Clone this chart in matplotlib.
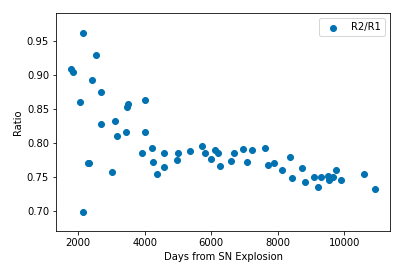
import numpy as np
import matplotlib
matplotlib.use("Agg")
import matplotlib.pyplot as plt

# days since explosion and R2/R1 ratio
days = [2150, 2541, 1780, 1850, 2422, 2692, 2061, 3504, 3474, 4016,
        3114, 2692, 3174, 3444, 4016, 4226, 3925, 4587, 5008, 5368,
        5729, 5820, 6120, 6192, 6000, 6271, 6602, 2301, 2331, 4256,
        4587, 4978, 4376, 3023, 2150,
        6692, 6962, 7233, 7083, 7624, 7714, 7895, 8135, 8376, 8436,
        8737, 8827, 9098, 9218, 9308, 9519, 9549, 9579, 9669, 9759,
        9910, 10602, 10932]
ratio = [0.961, 0.930, 0.909, 0.905, 0.892, 0.875, 0.860, 0.858, 0.853, 0.863,
         0.833, 0.828, 0.810, 0.816, 0.816, 0.792, 0.786, 0.786, 0.785, 0.788,
         0.795, 0.786, 0.789, 0.786, 0.776, 0.766, 0.773, 0.771, 0.770, 0.772,
         0.764, 0.775, 0.754, 0.758, 0.698,
         0.785, 0.791, 0.789, 0.772, 0.792, 0.767, 0.770, 0.760, 0.780, 0.748,
         0.763, 0.742, 0.750, 0.736, 0.750, 0.752, 0.745, 0.748, 0.750, 0.760,
         0.745, 0.754, 0.732]

fig, ax = plt.subplots(figsize=(410 / 72, 274 / 72), dpi=72)
fig.subplots_adjust(left=0.1366, right=0.952, top=0.9515, bottom=0.157)

ax.scatter(days, ratio, color="#0072B2", label="R2/R1")
ax.set_xlim(1330, 11383)
ax.set_ylim(0.6706, 0.9907)
ax.set_xlabel("Days from SN Explosion")
ax.set_ylabel("Ratio")
ax.legend(loc="upper right")

fig.savefig("out.png", dpi=72)
